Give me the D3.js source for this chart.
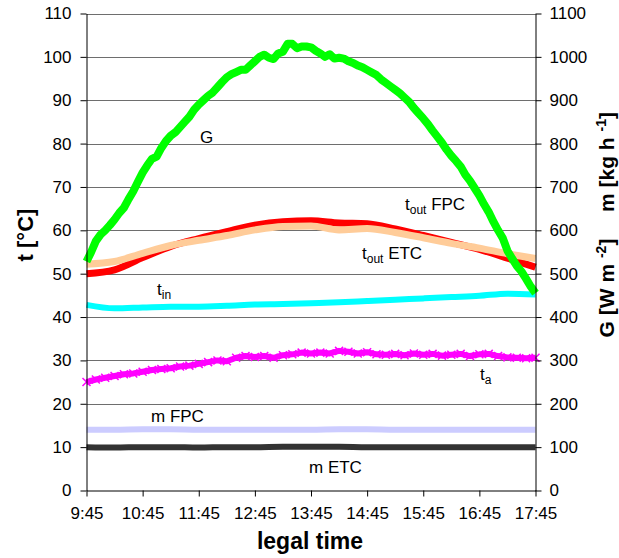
<!DOCTYPE html>
<html>
<head>
<meta charset="utf-8">
<script src="https://cdn.jsdelivr.net/npm/d3@7"></script>
<style>
  html, body { margin: 0; padding: 0; background: #fff; }
  svg { display: block; font-family: "Liberation Sans", Arial, sans-serif; }
</style>
</head>
<body>
<svg id="chart" width="619" height="558"></svg>
<script>
// Time axis: minutes after 9:45 (legal time)
const timeTickMinutes = [0, 60, 120, 180, 240, 300, 360, 420, 480];
const timeTickLabels = ["9:45", "10:45", "11:45", "12:45", "13:45", "14:45", "15:45", "16:45", "17:45"];
const leftTicks = [0, 10, 20, 30, 40, 50, 60, 70, 80, 90, 100, 110];
const rightTicks = [0, 100, 200, 300, 400, 500, 600, 700, 800, 900, 1000, 1100];

// Solar irradiance G [W m-2], sampled every 5 minutes
const gStep = 5;
const gValues = [
  528, 550, 575, 590, 600, 612, 625, 640, 652, 672, 690, 712,
  733, 750, 765, 770, 790, 806, 818, 826, 838, 850, 862, 878,
  890, 900, 910, 918, 930, 942, 953, 960, 965, 970, 970, 980,
  990, 1000, 1005, 998, 995, 1008, 1012, 1030, 1030, 1020, 1024, 1024,
  1022, 1014, 1008, 1000, 1006, 996, 998, 996, 990, 986, 980, 976,
  970, 964, 958, 948, 940, 932, 924, 916, 906, 896, 882, 870,
  858, 845, 830, 816, 802, 786, 772, 760, 747, 728, 714, 697,
  680, 660, 642, 620, 600, 582, 553, 535, 518, 505, 488, 470,
  455
];

// Temperatures [°C] and flow rates [kg h-1], sampled every 30 minutes
const slowStep = 30;
const tOutFPC = [50.0, 50.9, 53.7, 56.3, 58.1, 59.7, 61.2, 62.0, 62.2, 61.7, 61.5, 60.3, 58.8, 57.2, 55.6, 53.6, 51.5];
const tOutETC = [52.2, 52.8, 54.7, 56.5, 57.7, 58.8, 60.1, 60.9, 61.0, 60.1, 60.4, 59.5, 58.3, 57.0, 55.9, 54.6, 53.5];
const tIn     = [42.8, 42.0, 42.2, 42.4, 42.4, 42.6, 42.9, 43.0, 43.2, 43.4, 43.7, 44.0, 44.3, 44.6, 44.9, 45.4, 45.2];
const mFPC    = [140, 140, 141, 141, 140, 140, 140, 140, 140, 141, 141, 140, 140, 140, 140, 140, 140];
const mETC    = [100, 99, 100, 100, 99, 100, 100, 101, 101, 101, 100, 100, 100, 100, 100, 100, 100];

// Ambient temperature [°C], sampled every 10 minutes
const taStep = 10;
const tAmb = [
  25.0, 25.6, 26.0, 26.4, 26.8, 27.0, 27.4, 27.8, 28.0, 28.2,
  28.6, 28.8, 29.2, 29.6, 30.0, 29.8, 30.6, 31.0, 30.8, 31.0,
  30.6, 31.2, 31.4, 31.8, 31.6, 31.8, 31.6, 32.2, 32.0, 31.6,
  31.9, 31.4, 31.3, 31.5, 31.2, 31.6, 31.3, 31.5, 31.1, 31.3,
  31.5, 31.0, 31.4, 31.5, 31.0, 30.7, 30.6, 30.5, 30.6
];

const svg = d3.select("#chart");
const x = d3.scaleLinear().domain([0, 480]).range([86.5, 535.5]);
const yL = d3.scaleLinear().domain([0, 110]).range([490.5, 13.5]);
const yR = d3.scaleLinear().domain([0, 1100]).range([490.5, 13.5]);

// Horizontal gridlines
svg.append("g")
  .selectAll("line")
  .data(leftTicks.slice(1))
  .join("line")
  .attr("x1", x(0)).attr("x2", x(480))
  .attr("y1", d => Math.round(yL(d)) + 0.5).attr("y2", d => Math.round(yL(d)) + 0.5)
  .attr("stroke", "#6e6e6e").attr("stroke-width", 1);

// Series
const series = (vals, step) => vals.map((v, i) => [i * step, v]);

function drawLine(data, yScale, color, width, curve) {
  svg.append("path")
    .datum(data)
    .attr("d", d3.line().x(d => x(d[0])).y(d => yScale(d[1])).curve(curve || d3.curveLinear))
    .attr("fill", "none")
    .attr("stroke", color)
    .attr("stroke-width", width)
    .attr("stroke-linejoin", "round")
    .attr("stroke-linecap", "butt");
}

drawLine(series(mETC, slowStep), yR, "#333333", 6, d3.curveMonotoneX);
drawLine(series(mFPC, slowStep), yR, "#ccccff", 6, d3.curveMonotoneX);

// Ambient temperature: thick band with cross markers
const taData = series(tAmb, taStep);
drawLine(taData, yL, "#ff00ff", 6);
svg.append("g").selectAll("path")
  .data(taData)
  .join("path")
  .attr("d", d => {
    const cx = x(d[0]), cy = yL(d[1]), s = 4;
    return `M${cx - s},${cy - s}L${cx + s},${cy + s}M${cx - s},${cy + s}L${cx + s},${cy - s}`;
  })
  .attr("stroke", "#ff00ff").attr("stroke-width", 1.5);

drawLine(series(tIn, slowStep), yL, "#00ffff", 6, d3.curveMonotoneX);
drawLine(series(tOutFPC, slowStep), yL, "#ff0000", 7, d3.curveMonotoneX);
drawLine(series(tOutETC, slowStep), yL, "#ffcc99", 7, d3.curveMonotoneX);
drawLine(series(gValues, gStep), yR, "#00ff00", 8);

// Axes
const left = svg.append("g").attr("transform", "translate(86.5,0)")
  .call(d3.axisLeft(yL).tickValues(leftTicks).tickSize(6).tickPadding(9).tickSizeOuter(0));
const right = svg.append("g").attr("transform", "translate(535.5,0)")
  .call(d3.axisRight(yR).tickValues(rightTicks).tickFormat(d3.format("d"))
    .tickSize(6).tickPadding(8).tickSizeOuter(0));
const bottom = svg.append("g").attr("transform", "translate(0,490.5)")
  .call(d3.axisBottom(x).tickValues(timeTickMinutes)
    .tickFormat((d, i) => timeTickLabels[i]).tickSize(6).tickPadding(10).tickSizeOuter(0));

[left, right, bottom].forEach(g => {
  g.selectAll(".domain").attr("stroke", "#000").attr("stroke-width", 1);
  g.selectAll(".tick line").attr("stroke", "#000");
  g.selectAll("text").attr("font-family", "Liberation Sans, Arial, sans-serif")
    .attr("font-size", 17).attr("fill", "#000");
});

// Axis titles
svg.append("text")
  .attr("transform", "translate(33,235) rotate(-90)")
  .attr("text-anchor", "middle")
  .attr("font-size", 22).attr("font-weight", "bold")
  .text("t [°C]");

svg.append("text")
  .attr("x", 310).attr("y", 549)
  .attr("text-anchor", "middle")
  .attr("font-size", 23).attr("font-weight", "bold")
  .text("legal time");

function supTitle(tx, ty, base, sup) {
  const t = svg.append("text")
    .attr("transform", `translate(${tx},${ty}) rotate(-90)`)
    .attr("text-anchor", "middle")
    .attr("font-size", 21).attr("font-weight", "bold");
  t.append("tspan").text(base + " ");
  t.append("tspan").attr("dy", -8).attr("font-size", 14).text(sup);
  t.append("tspan").attr("dy", 8).text("]");
}
supTitle(614, 162, "m [kg h", "-1");
supTitle(614, 288, "G [W m", "-2");

// Series labels
function seriesLabel(lx, ly, main, sub, rest) {
  const t = svg.append("text").attr("x", lx).attr("y", ly).attr("font-size", 17);
  t.append("tspan").text(main);
  if (sub) {
    t.append("tspan").attr("dy", 4).attr("font-size", 12).text(sub);
    if (rest) t.append("tspan").attr("dy", -4).text(rest);
  }
}
seriesLabel(200, 143, "G");
seriesLabel(405, 210, "t", "out", " FPC");
seriesLabel(362, 259, "t", "out", " ETC");
seriesLabel(157, 295, "t", "in");
seriesLabel(480, 380, "t", "a");
seriesLabel(151, 422, "m FPC");
seriesLabel(309, 473, "m ETC");
</script>
</body>
</html>
